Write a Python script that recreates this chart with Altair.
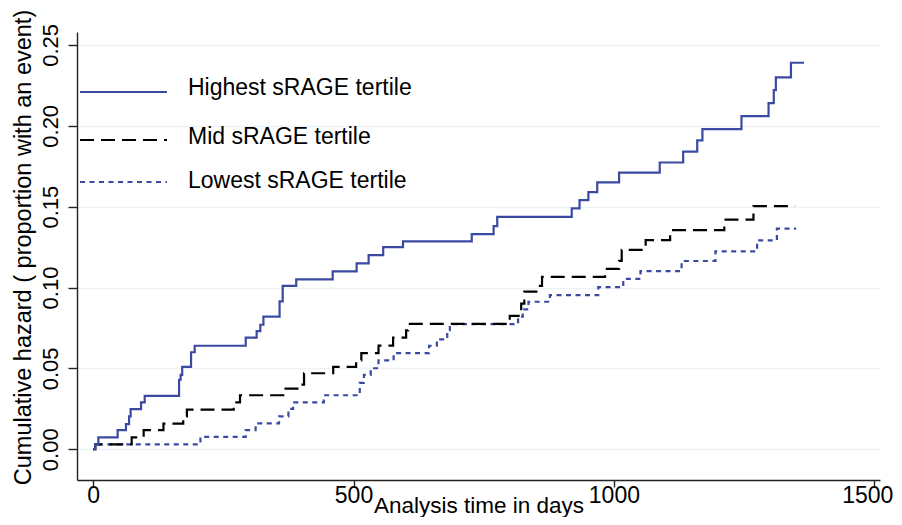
import altair as alt
import pandas as pd

# ---- data ----
series_names = ["Highest sRAGE tertile", "Mid sRAGE tertile", "Lowest sRAGE tertile"]

high_days = [0, 4, 10, 47, 63, 69, 72, 92, 99, 165, 168, 171, 188, 195, 293, 314, 321, 327,
             358, 364, 390, 460, 506, 529, 557, 595, 727, 769, 776, 919, 934, 951, 968, 1010,
             1088, 1133, 1160, 1170, 1245, 1297, 1307, 1311, 1340, 1365]
high_haz = [0, 0.003, 0.0074, 0.0118, 0.0155, 0.0204, 0.0248, 0.029, 0.033, 0.043, 0.046, 0.051,
            0.060, 0.064, 0.069, 0.073, 0.077, 0.082, 0.0915, 0.101, 0.105, 0.110, 0.115, 0.120,
            0.125, 0.1285, 0.133, 0.138, 0.1437, 0.149, 0.154, 0.159, 0.165, 0.171, 0.1773,
            0.184, 0.191, 0.198, 0.206, 0.214, 0.222, 0.230, 0.239, 0.239]

mid_days = [0, 4, 74, 97, 135, 173, 180, 270, 282, 365, 400, 405, 461, 505, 515, 548, 576, 601,
            605, 800, 822, 828, 855, 862, 983, 1010, 1015, 1061, 1108, 1212, 1268, 1348]
mid_haz = [0, 0.003, 0.0074, 0.0118, 0.0159, 0.0204, 0.0245, 0.029, 0.0334, 0.0375, 0.040,
           0.047, 0.051, 0.055, 0.0595, 0.0641, 0.069, 0.0735, 0.0775, 0.0825, 0.090, 0.0975,
           0.101, 0.1066, 0.1115, 0.1165, 0.1233, 0.1293, 0.1355, 0.142, 0.1504, 0.1504]

low_days = [0, 4, 206, 293, 312, 357, 375, 384, 443, 512, 520, 533, 548, 577, 645, 660, 680,
            685, 816, 825, 836, 877, 970, 1018, 1051, 1130, 1195, 1275, 1313, 1350]
low_haz = [0, 0.003, 0.0077, 0.0118, 0.016, 0.0204, 0.025, 0.029, 0.0334, 0.041, 0.046, 0.0501,
           0.055, 0.0594, 0.064, 0.068, 0.0736, 0.0774, 0.082, 0.0865, 0.0912, 0.0953, 0.1002,
           0.1053, 0.1101, 0.1164, 0.1224, 0.1292, 0.1364, 0.1364]

x_ticks = [0, 500, 1000, 1500]
y_ticks = [0.0, 0.05, 0.10, 0.15, 0.20, 0.25]

# ---- styling ----
FONT = "Liberation Sans"
BLUE = "#3a4aa2"
colors = [BLUE, "#000000", BLUE]
dashes = [[1, 0], [14, 7], [5, 4.5]]
legend_rule_y = [60, 108, 150]
legend_text_y = [56, 105, 149]

frames = []
for name, d, h in zip(series_names, [high_days, mid_days, low_days], [high_haz, mid_haz, low_haz]):
    frames.append(pd.DataFrame({"series": name, "day": d, "haz": h}))
df = pd.concat(frames, ignore_index=True)

x_enc = alt.X("day:Q",
              scale=alt.Scale(domain=[-31, 1511], nice=False, zero=False),
              axis=alt.Axis(values=x_ticks, format="d", grid=False, title="Analysis time in days",
                            tickSize=7, labelPadding=-3, titlePadding=-13,
                            labelOffset={"condition": {"test": "datum.value == 1500", "value": -7},
                                         "value": 0},
                            labelFontSize=23, titleFontSize=22.5))
y_enc = alt.Y("haz:Q",
              scale=alt.Scale(domain=[-0.019, 0.258], nice=False, zero=False),
              axis=alt.Axis(values=y_ticks, format=".2f", grid=True,
                            title="Cumulative hazard ( proportion with an event)",
                            labelAngle=-90, labelAlign="center", labelBaseline="bottom",
                            tickSize=9, labelPadding=6, titlePadding=4, titleY=215,
                            labelFontSize=22, titleFontSize=23.5))

layers = []
for i in [2, 1, 0]:
    name = series_names[i]
    layers.append(
        alt.Chart(df).transform_filter(alt.datum.series == name)
        .mark_line(interpolate="step-after", strokeWidth=2.2, color=colors[i],
                   strokeDash=dashes[i])
        .encode(x=x_enc, y=y_enc)
    )

for i, name in enumerate(series_names):
    ldf = pd.DataFrame({"label": [name]})
    layers.append(
        alt.Chart(ldf).mark_rule(color=colors[i], strokeDash=dashes[i], strokeWidth=2.2)
        .encode(x=alt.value(3), x2=alt.value(90), y=alt.value(legend_rule_y[i]))
    )
    layers.append(
        alt.Chart(ldf).mark_text(align="left", baseline="middle", fontSize=23, font=FONT,
                                 color="black")
        .encode(x=alt.value(111), y=alt.value(legend_text_y[i]), text="label:N")
    )

chart = (
    alt.layer(*layers)
    .properties(width=803, height=448, autosize="none",
                padding={"left": 69, "top": 24, "right": 14, "bottom": 37},
                background="white")
    .configure_view(stroke=None)
    .configure_axis(domainColor="#222222", domainWidth=1.4, tickColor="#222222", tickWidth=1.4,
                    labelColor="black", titleColor="black", labelFont=FONT, titleFont=FONT,
                    titleFontWeight="normal", gridColor="#edf2f6", gridWidth=1.5)
)

chart.save("out.html", embed_options={"renderer": "svg", "actions": False})
